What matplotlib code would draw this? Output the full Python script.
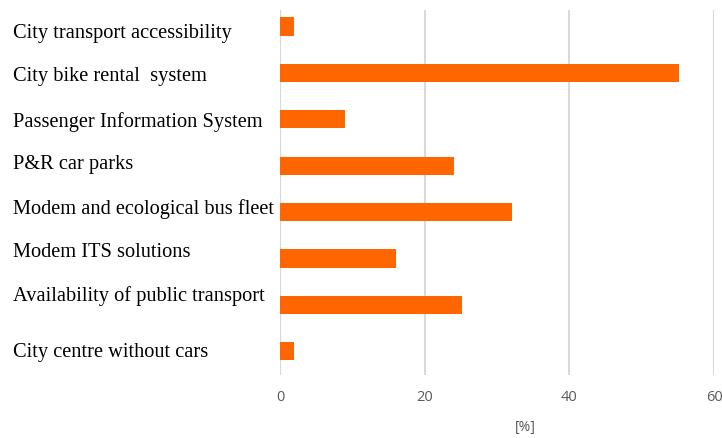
import matplotlib
matplotlib.use("Agg")
import matplotlib.pyplot as plt
import matplotlib.transforms as mtransforms

categories = [
    "City transport accessibility",
    "City bike rental  system",
    "Passenger Information System",
    "P&R car parks",
    "Modem and ecological bus fleet",
    "Modem ITS solutions",
    "Availability of public transport",
    "City centre without cars",
]
values = [1.9, 55.1, 9.0, 24.1, 32.1, 16.1, 25.1, 1.9]
xticks = [0, 20, 40, 60]
xlabel = "[%]"

# label vertical offsets (data units) relative to bars, to mimic source layout
label_offsets = [0.16, 0.08, 0.05, -0.02, -0.06, -0.13, -0.19, 0.02]

W, H = 722, 438
fig = plt.figure(figsize=(W / 100, H / 100), dpi=100)
ax_left, ax_right = 280, 714
ax_top, ax_bottom = 10, 375
ax = fig.add_axes([ax_left / W, 1 - ax_bottom / H, (ax_right - ax_left) / W, (ax_bottom - ax_top) / H])

ypos = list(range(len(categories)))
ax.barh(ypos, values, height=0.39, color="#FF6600", zorder=3)

ax.set_xlim(0, 60)
ax.set_ylim(7.51, -0.356)
ax.set_xticks(xticks)
ax.set_xticklabels([str(t) for t in xticks], color="#595959", fontsize=10.5, family="Open Sans")
ax.tick_params(axis="x", length=0, pad=11)
ax.set_yticks([])
ax.grid(axis="x", color="#D9D9D9", linewidth=1.5, zorder=0)
for s in ax.spines.values():
    s.set_visible(False)
ax.axvline(0, color="#D9D9D9", linewidth=1.5, zorder=1)

ax.set_xlabel(xlabel, color="#595959", fontsize=10, family="Open Sans")
ax.xaxis.set_label_coords((525 - ax_left) / (ax_right - ax_left), -(428 - ax_bottom) / (ax_bottom - ax_top))
ax.xaxis.label.set_verticalalignment("center")

trans = mtransforms.blended_transform_factory(fig.transFigure, ax.transData)
for i, (lab, off) in enumerate(zip(categories, label_offsets)):
    fig.text(13 / W, i + off, lab, transform=trans, ha="left", va="center",
             fontsize=14.7, family="Liberation Serif", color="#000000")

fig.savefig("out.png", dpi=100)
